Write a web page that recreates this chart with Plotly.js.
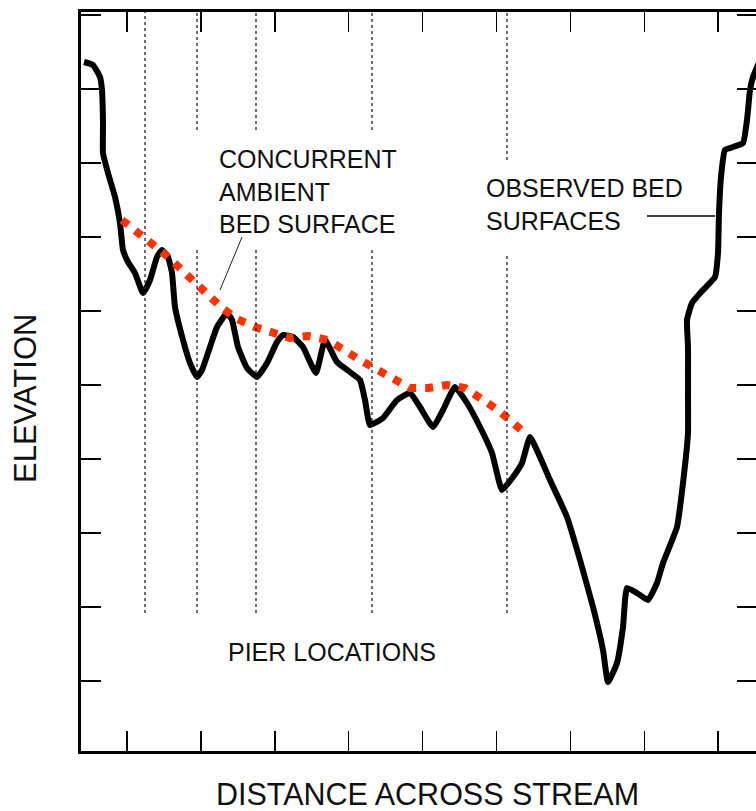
<!DOCTYPE html>
<html>
<head>
<meta charset="utf-8">
<script src="https://cdn.plot.ly/plotly-3.0.1.min.js"></script>
<style>
  html, body { margin: 0; padding: 0; background: #ffffff; overflow: hidden; }
  #chart { width: 760px; height: 811px; }
</style>
</head>
<body>
<div id="chart"></div>
<script>
// Cross-section of the stream bed (arbitrary distance / elevation units)
const observedDistance = [3, 12, 19, 21, 22, 22, 27, 34, 39, 42, 47, 54, 62, 69, 76, 81, 87, 91, 94, 102,
  109, 116, 121, 129, 136, 146, 151, 157, 166, 176, 186, 196, 202, 212, 222, 235, 244, 256, 269, 279,
  284, 289, 302, 316, 329, 339, 352, 362, 374, 386, 399, 411, 421, 432, 441, 449, 459, 469, 486, 499,
  512, 522, 527, 536, 542, 546, 556, 567, 576, 582, 596, 602, 607, 607, 607, 606, 611, 622, 634, 637,
  638, 640, 644, 652, 662, 666, 669, 672, 679];
const observedElevation = [689, 686, 674, 661, 628, 598, 578, 554, 528, 501, 489, 478, 458, 471, 494, 501, 494, 478, 444, 411,
  388, 374, 381, 404, 424, 438, 431, 404, 383, 374, 388, 409, 416, 414, 404, 378, 411, 389, 379, 371,
  351, 326, 333, 351, 358, 344, 324, 341, 364, 348, 324, 298, 261, 274, 288, 314, 294, 271, 234, 191,
  144, 101, 69, 88, 124, 163, 158, 151, 168, 188, 224, 268, 318, 351, 404, 431, 448, 461, 474, 498,
  538, 574, 601, 604, 608, 631, 661, 674, 691];

// Concurrent ambient bed surface
const ambientDistance = [41, 86, 141, 156, 174, 209, 227, 247, 279, 329, 347, 366, 384, 417, 446];
const ambientElevation = [531, 495, 443, 432, 424, 413, 415, 411, 391, 363, 363, 366, 363, 341, 316];

// Pier locations across the section
const pierDistance = [64, 116, 175, 291, 426];
const pierBottom = 138;

const fontFamily = '"Liberation Sans", Arial, Helvetica, sans-serif';
const ink = '#111111';

// Pier lines break where the labels sit
const labelGaps = [
  { from: 105, to: 300, low: 504, high: 621 },
  { from: 400, to: 460, low: 496, high: 591 }
];
const yTop = 739;
const shapes = [];
pierDistance.forEach(function (px) {
  const gap = labelGaps.find(function (g) { return px >= g.from && px <= g.to; });
  const segs = gap ? [[pierBottom, gap.low], [gap.high, yTop]] : [[pierBottom, yTop]];
  segs.forEach(function (s) {
    shapes.push({
      type: 'line', xref: 'x', yref: 'y', x0: px, x1: px, y0: s[0], y1: s[1],
      line: { color: '#222222', width: 1.3, dash: 'dot' }
    });
  });
});
// Leader lines from the labels to the curves
shapes.push({ type: 'line', xref: 'x', yref: 'y', x0: 161, y0: 514, x1: 139, y1: 461,
  line: { color: '#222222', width: 1 } });
shapes.push({ type: 'line', xref: 'x', yref: 'y', x0: 566, y0: 535, x1: 634, y1: 535,
  line: { color: '#000000', width: 1.4 } });

const traces = [
  {
    x: observedDistance, y: observedElevation, type: 'scatter', mode: 'lines',
    line: { color: '#000000', width: 6, shape: 'spline', smoothing: 0.4 },
    hoverinfo: 'skip', showlegend: false
  },
  {
    x: ambientDistance, y: ambientElevation, type: 'scatter', mode: 'lines',
    line: { color: '#ff3300', width: 8, dash: '8px,9px' },
    hoverinfo: 'skip', showlegend: false
  }
];

const axisBase = {
  showline: true, linecolor: '#000000', linewidth: 3, mirror: 'ticks',
  ticks: 'inside', ticklen: 20, tickwidth: 1.5, tickcolor: '#000000',
  showticklabels: false, showgrid: false, zeroline: false, fixedrange: true
};

const labelFont = { family: fontFamily, size: 25, color: ink };

const layout = {
  width: 760, height: 811,
  margin: { l: 81, r: 3, t: 12, b: 60, pad: 0 },
  paper_bgcolor: '#ffffff', plot_bgcolor: '#ffffff',
  xaxis: Object.assign({}, axisBase, { range: [0, 676], tick0: 46, dtick: 73.9 }),
  yaxis: Object.assign({}, axisBase, { range: [0, 739], tick0: 70, dtick: 74 }),
  shapes: shapes,
  annotations: [
    { xref: 'x', yref: 'y', x: 136, y: 560, xanchor: 'left', yanchor: 'middle', align: 'left',
      text: 'CONCURRENT<br>AMBIENT<br>BED SURFACE', showarrow: false, font: labelFont },
    { xref: 'x', yref: 'y', x: 403, y: 547, xanchor: 'left', yanchor: 'middle', align: 'left',
      text: 'OBSERVED BED<br>SURFACES', showarrow: false, font: labelFont },
    { xref: 'x', yref: 'y', x: 251, y: 99, xanchor: 'center', yanchor: 'middle',
      text: 'PIER LOCATIONS', showarrow: false, font: labelFont },
    { xref: 'paper', yref: 'paper', x: 0.512, y: 0, yshift: -43, xanchor: 'center', yanchor: 'middle',
      text: 'DISTANCE ACROSS STREAM', showarrow: false,
      font: { family: fontFamily, size: 30.5, color: ink } },
    { xref: 'paper', yref: 'paper', x: 0, xshift: -56, y: 0.4763, xanchor: 'center', yanchor: 'middle',
      text: 'ELEVATION', textangle: -90, showarrow: false,
      font: { family: fontFamily, size: 31, color: ink } }
  ]
};

Plotly.newPlot('chart', traces, layout, { staticPlot: true, displayModeBar: false });
</script>
</body>
</html>
